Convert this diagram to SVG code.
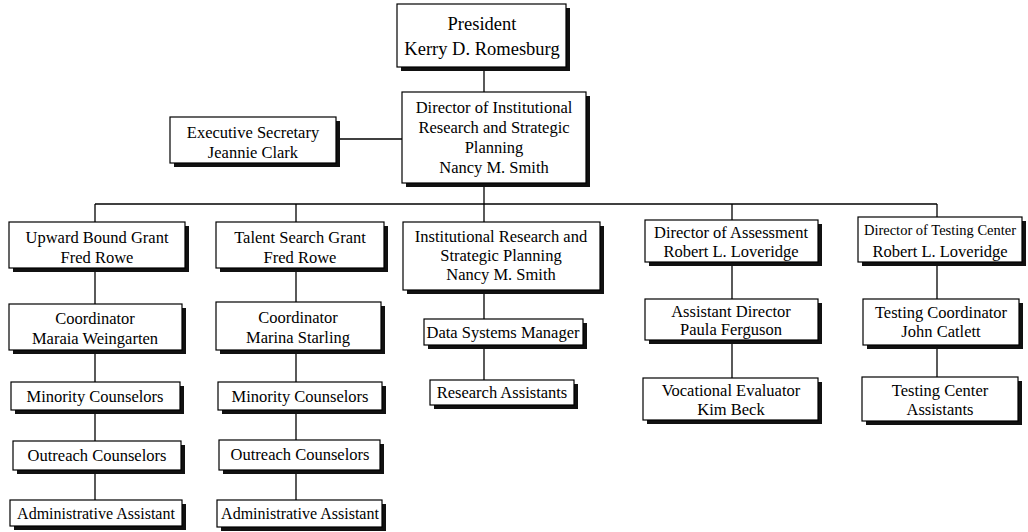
<svg xmlns="http://www.w3.org/2000/svg" width="1028" height="532" viewBox="0 0 1028 532">
<style>
.sh{fill:#111}
.bx{fill:#fff;stroke:#000;stroke-width:1.2}
.t{font-family:"Liberation Serif","Times New Roman",serif;font-size:16.5px;text-anchor:middle;fill:#000}
.tp{font-size:18.5px}
.ts{font-size:14.5px}
.ta{font-size:16px}
#connectors line{stroke:#000;stroke-width:1.3}
</style>
<rect width="1028" height="532" fill="#fff"/>
<g id="connectors">
<line x1="484" y1="67" x2="484" y2="92"/>
<line x1="336" y1="139" x2="402" y2="139"/>
<line x1="484" y1="183" x2="484" y2="204"/>
<line x1="95" y1="204" x2="937" y2="204"/>
<line x1="95" y1="204" x2="95" y2="222"/>
<line x1="296" y1="204" x2="296" y2="222"/>
<line x1="484" y1="204" x2="484" y2="222"/>
<line x1="732" y1="204" x2="732" y2="220"/>
<line x1="937" y1="204" x2="937" y2="217"/>
<line x1="95" y1="268" x2="95" y2="304"/>
<line x1="95" y1="350" x2="95" y2="382"/>
<line x1="95" y1="410" x2="95" y2="441"/>
<line x1="95" y1="470" x2="95" y2="500"/>
<line x1="296" y1="268" x2="296" y2="302"/>
<line x1="296" y1="350" x2="296" y2="382"/>
<line x1="296" y1="410" x2="296" y2="440"/>
<line x1="296" y1="470" x2="296" y2="500"/>
<line x1="484" y1="290" x2="484" y2="319"/>
<line x1="484" y1="345" x2="484" y2="380"/>
<line x1="732" y1="262" x2="732" y2="299"/>
<line x1="732" y1="340" x2="732" y2="378"/>
<line x1="937" y1="262" x2="937" y2="299"/>
<line x1="937" y1="345" x2="937" y2="377"/>
</g>
<g id="president">
<rect class="sh" x="401" y="8" width="169" height="63"/>
<rect class="bx" x="397" y="4" width="169" height="63"/>
<text class="t tp" x="482" y="30">President</text>
<text class="t tp" x="482" y="55">Kerry D. Romesburg</text>
</g>
<g id="director-ir">
<rect class="sh" x="406" y="96" width="184" height="91"/>
<rect class="bx" x="402" y="92" width="184" height="91"/>
<text class="t" x="494" y="113">Director of Institutional</text>
<text class="t" x="494" y="133">Research and Strategic</text>
<text class="t" x="494" y="153">Planning</text>
<text class="t" x="494" y="173">Nancy M. Smith</text>
</g>
<g id="exec-sec">
<rect class="sh" x="174" y="121" width="166" height="46"/>
<rect class="bx" x="170" y="117" width="166" height="46"/>
<text class="t" x="253" y="138">Executive Secretary</text>
<text class="t" x="253" y="158">Jeannie Clark</text>
</g>
<g id="upward">
<rect class="sh" x="13" y="226" width="176" height="46"/>
<rect class="bx" x="9" y="222" width="176" height="46"/>
<text class="t" x="97" y="243">Upward Bound Grant</text>
<text class="t" x="97" y="263">Fred Rowe</text>
</g>
<g id="talent">
<rect class="sh" x="220" y="226" width="168" height="46"/>
<rect class="bx" x="216" y="222" width="168" height="46"/>
<text class="t" x="300" y="243">Talent Search Grant</text>
<text class="t" x="300" y="263">Fred Rowe</text>
</g>
<g id="ir">
<rect class="sh" x="407" y="226" width="197" height="68"/>
<rect class="bx" x="403" y="222" width="197" height="68"/>
<text class="t" x="501" y="242">Institutional Research and</text>
<text class="t" x="501" y="261">Strategic Planning</text>
<text class="t" x="501" y="280">Nancy M. Smith</text>
</g>
<g id="assessment">
<rect class="sh" x="649" y="224" width="173" height="42"/>
<rect class="bx" x="645" y="220" width="173" height="42"/>
<text class="t" x="731" y="238">Director of Assessment</text>
<text class="t" x="731" y="257">Robert L. Loveridge</text>
</g>
<g id="testing">
<rect class="sh" x="862" y="221" width="164" height="45"/>
<rect class="bx" x="858" y="217" width="164" height="45"/>
<text class="t ts" x="940" y="235">Director of Testing Center</text>
<text class="t" x="940" y="257">Robert L. Loveridge</text>
</g>
<g id="coord-maraia">
<rect class="sh" x="13" y="308" width="173" height="46"/>
<rect class="bx" x="9" y="304" width="173" height="46"/>
<text class="t" x="95" y="324">Coordinator</text>
<text class="t" x="95" y="344">Maraia Weingarten</text>
</g>
<g id="coord-marina">
<rect class="sh" x="220" y="306" width="165" height="48"/>
<rect class="bx" x="216" y="302" width="165" height="48"/>
<text class="t" x="298" y="323">Coordinator</text>
<text class="t" x="298" y="343">Marina Starling</text>
</g>
<g id="data-systems">
<rect class="sh" x="428" y="323" width="159" height="26"/>
<rect class="bx" x="424" y="319" width="159" height="26"/>
<text class="t" x="503" y="338">Data Systems Manager</text>
</g>
<g id="asst-director">
<rect class="sh" x="649" y="303" width="173" height="41"/>
<rect class="bx" x="645" y="299" width="173" height="41"/>
<text class="t" x="731" y="317">Assistant Director</text>
<text class="t" x="731" y="335">Paula Ferguson</text>
</g>
<g id="testing-coord">
<rect class="sh" x="867" y="303" width="156" height="46"/>
<rect class="bx" x="863" y="299" width="156" height="46"/>
<text class="t" x="941" y="318">Testing Coordinator</text>
<text class="t" x="941" y="337">John Catlett</text>
</g>
<g id="minority-1">
<rect class="sh" x="15" y="386" width="169" height="28"/>
<rect class="bx" x="11" y="382" width="169" height="28"/>
<text class="t" x="95" y="402">Minority Counselors</text>
</g>
<g id="minority-2">
<rect class="sh" x="222" y="386" width="164" height="28"/>
<rect class="bx" x="218" y="382" width="164" height="28"/>
<text class="t" x="300" y="402">Minority Counselors</text>
</g>
<g id="research-assistants">
<rect class="sh" x="434" y="384" width="144" height="25"/>
<rect class="bx" x="430" y="380" width="144" height="25"/>
<text class="t" x="502" y="398">Research Assistants</text>
</g>
<g id="vocational">
<rect class="sh" x="647" y="382" width="175" height="42"/>
<rect class="bx" x="643" y="378" width="175" height="42"/>
<text class="t" x="731" y="396">Vocational Evaluator</text>
<text class="t" x="731" y="415">Kim Beck</text>
</g>
<g id="testing-assistants">
<rect class="sh" x="866" y="381" width="156" height="44"/>
<rect class="bx" x="862" y="377" width="156" height="44"/>
<text class="t" x="940" y="396">Testing Center</text>
<text class="t" x="940" y="415">Assistants</text>
</g>
<g id="outreach-1">
<rect class="sh" x="17" y="445" width="168" height="29"/>
<rect class="bx" x="13" y="441" width="168" height="29"/>
<text class="t" x="97" y="461">Outreach Counselors</text>
</g>
<g id="outreach-2">
<rect class="sh" x="223" y="444" width="161" height="30"/>
<rect class="bx" x="219" y="440" width="161" height="30"/>
<text class="t" x="300" y="460">Outreach Counselors</text>
</g>
<g id="admin-1">
<rect class="sh" x="14" y="504" width="172" height="26"/>
<rect class="bx" x="10" y="500" width="172" height="26"/>
<text class="t ta" x="96" y="519">Administrative Assistant</text>
</g>
<g id="admin-2">
<rect class="sh" x="221" y="504" width="165" height="27"/>
<rect class="bx" x="217" y="500" width="165" height="27"/>
<text class="t ta" x="300" y="519">Administrative Assistant</text>
</g>
</svg>
